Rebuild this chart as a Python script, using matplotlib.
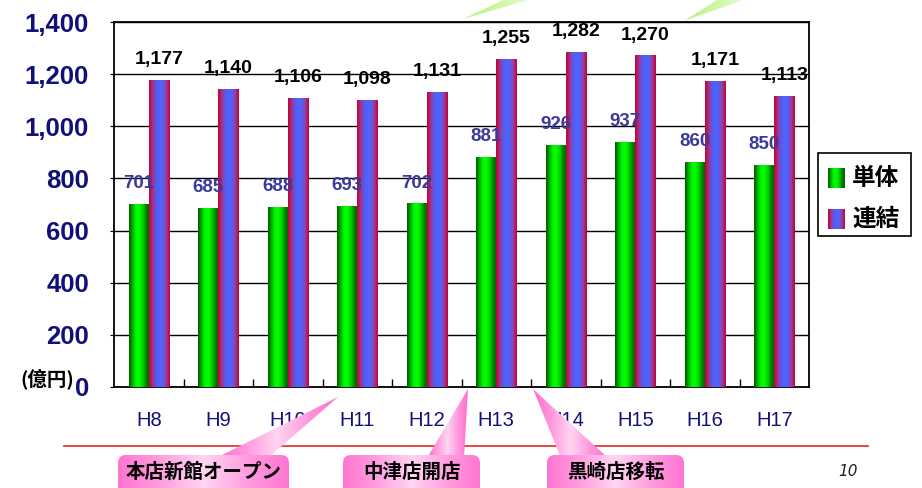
import numpy as np
import matplotlib.pyplot as plt
from matplotlib.patches import Polygon, FancyBboxPatch, Rectangle
from matplotlib.colors import LinearSegmentedColormap

years = ['H8', 'H9', 'H10', 'H11', 'H12', 'H13', 'H14', 'H15', 'H16', 'H17']
tandoku = [701, 685, 688, 693, 702, 881, 926, 937, 860, 850]
renketsu = [1177, 1140, 1106, 1098, 1131, 1255, 1282, 1270, 1171, 1113]
series_names = ['単体', '連結']
events = ['本店新館オープン', '中津店開店', '黒崎店移転']
unit = '(億円)'

W, H = 922, 488
NAVY = '#10107a'
SANS = ['Liberation Sans', 'DejaVu Sans']
JP = ['Noto Sans CJK JP', 'DejaVu Sans']

green_cmap = LinearSegmentedColormap.from_list(
    'g', ['#005800', '#00b000', '#00f800', '#00ff00', '#00d000', '#008000', '#005c00'])
red_cmap = LinearSegmentedColormap.from_list(
    'r', ['#c8002a', '#9a3a9a', '#4a62ff', '#4a66ff', '#8a46b8', '#cc0028'])
pink_cmap = LinearSegmentedColormap.from_list(
    'p', ['#ff6ccf', '#ff9ade', '#ffd6f2', '#ff9ade', '#ff6ccf'])
lime_cmap = LinearSegmentedColormap.from_list('l', ['#b8f080', '#e4fbc8'])

grad = np.linspace(0, 1, 128).reshape(1, -1)

fig = plt.figure(figsize=(W / 100, H / 100), dpi=100)
ax = fig.add_axes([114 / W, 1 - 387 / H, (809 - 114) / W, (387 - 22) / H])

bw = 0.29
x = np.arange(len(years))
for i in x:
    ax.imshow(grad, cmap=green_cmap, extent=(i - bw, i, 0, tandoku[i]),
              aspect='auto', interpolation='bilinear', zorder=3)
    ax.imshow(grad, cmap=red_cmap, extent=(i, i + bw, 0, renketsu[i]),
              aspect='auto', interpolation='bilinear', zorder=3)
    ax.annotate(f'{tandoku[i]:,}', (i - bw / 2, tandoku[i]), xytext=(0, 15),
                textcoords='offset points', ha='center', va='center',
                fontsize=13.5, fontweight='bold', color='#3a3a9c', family=SANS, zorder=5)
    ax.annotate(f'{renketsu[i]:,}', (i + bw / 2, renketsu[i]), xytext=(0, 15),
                textcoords='offset points', ha='center', va='center',
                fontsize=14, fontweight='bold', color='black', family=SANS, zorder=5)

ax.set_xlim(-0.5, len(years) - 0.5)
ax.set_ylim(0, 1400)
ax.set_yticks(range(0, 1401, 200))
ax.set_yticklabels([f'{v:,}' for v in range(0, 1401, 200)], fontsize=18.5,
                   fontweight='bold', color=NAVY, family=SANS)
ax.set_xticks(x)
ax.set_xticklabels(years, fontsize=14.5, color=NAVY, family=SANS)
ax.set_xticks(x[:-1] + 0.5, minor=True)
ax.tick_params(axis='x', which='major', length=0, pad=17)
ax.tick_params(axis='x', which='minor', direction='in', length=6, width=1)
ax.tick_params(axis='y', length=3, pad=15)
ax.grid(axis='y', color='black', lw=1)
ax.set_axisbelow(True)
for s in ax.spines.values():
    s.set_linewidth(1.3)
    s.set_color('black')

# overlay in pixel coordinates for annotations
ov = fig.add_axes([0, 0, 1, 1], zorder=10)
ov.set_xlim(0, W)
ov.set_ylim(H, 0)
ov.axis('off')
ov.patch.set_visible(False)


def grad_patch(patch, cmap, extent):
    ov.add_patch(patch)
    im = ov.imshow(grad, cmap=cmap, extent=extent, aspect='auto',
                   interpolation='bilinear', zorder=patch.get_zorder())
    im.set_clip_path(patch)


# light green callout tails at top
for pts in [[(463, 19), (503, 0), (528, 0)], [(684, 21), (717, 0), (743, 0)]]:
    p = Polygon(pts, closed=True, facecolor='none', edgecolor='none', zorder=2)
    xs = [q[0] for q in pts]
    grad_patch(p, lime_cmap, (min(xs), max(xs), 21, 0))

# red separator line
ov.plot([64, 868], [446, 446], color='#e63a3a', lw=1.3, zorder=1)

# pink callouts
boxes = [(110, 297), (335, 488), (539, 692)]
tails = [[(338, 397), (216, 458), (268, 458)],
         [(468, 389), (427, 458), (464, 458)],
         [(533, 389), (561, 458), (608, 458)]]
for (bx0, bx1), pts, label in zip(boxes, tails, events):
    p = Polygon(pts, closed=True, facecolor='none', edgecolor='none', zorder=3)
    xs = [q[0] for q in pts]
    grad_patch(p, pink_cmap, (min(xs), max(xs), 458, 389))
    b = FancyBboxPatch((bx0 + 8, 455), bx1 - bx0 - 16, 40,
                       boxstyle='round,pad=0,rounding_size=8',
                       facecolor='none', edgecolor='none', zorder=4)
    grad_patch(b, pink_cmap, (bx0, bx1, 500, 450))
    ov.text((bx0 + bx1) / 2, 472, label, ha='center', va='center', fontsize=14,
            fontweight='bold', family=JP, color='black', zorder=6)

# legend
ov.add_patch(Rectangle((818, 153), 93, 83, facecolor='white', edgecolor='black',
                       lw=1.2, zorder=3))
ov.imshow(grad, cmap=green_cmap, extent=(828, 845, 188, 168), aspect='auto',
          interpolation='bilinear', zorder=4)
ov.imshow(grad, cmap=red_cmap, extent=(828, 845, 229, 209), aspect='auto',
          interpolation='bilinear', zorder=4)
ov.text(852, 178, series_names[0], ha='left', va='center', fontsize=17,
        fontweight='bold', family=JP, zorder=5)
ov.text(852, 219, series_names[1], ha='left', va='center', fontsize=17,
        fontweight='bold', family=JP, zorder=5)

ov.text(20, 379, unit, ha='left', va='center', fontsize=14, fontweight='bold',
        family=JP, zorder=5)
ov.text(848, 471, '10', ha='center', va='center', fontsize=11, style='italic',
        color='#222222', zorder=5)

ov.set_xlim(0, W)
ov.set_ylim(H, 0)

fig.savefig('out.png', dpi=100)
